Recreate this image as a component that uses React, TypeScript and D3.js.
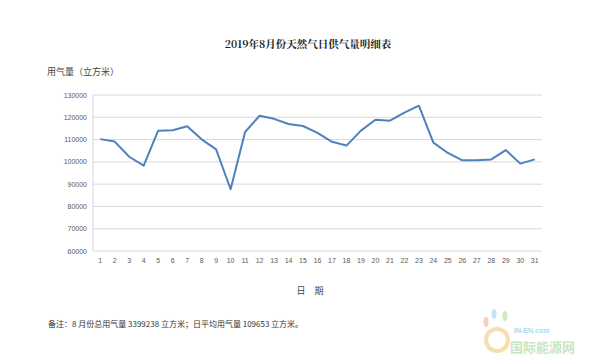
import React from "react";
import * as d3 from "d3";

const days = Array.from({ length: 31 }, (_, i) => String(i + 1));
const supply = [
  110200, 109100, 102300, 98300, 114000, 114200, 116000, 110100, 105600, 87700,
  113400, 120700, 119300, 117000, 116100, 113000, 109000, 107300, 114000, 118900,
  118500, 122100, 125200, 108600, 104000, 100700, 100700, 101100, 105300, 99200,
  101100,
];
const yTicks = [60000, 70000, 80000, 90000, 100000, 110000, 120000, 130000];

const W = 600, H = 360;
const left = 93, right = 542, top = 95, bottom = 251;

export default function App() {
  const x = d3.scaleBand<string>().domain(days).range([left, right]);
  const y = d3.scaleLinear().domain([60000, 130000]).range([bottom, top]);
  const line = d3
    .line<number>()
    .x((_, i) => (x(days[i]) as number) + x.bandwidth() / 2)
    .y((d) => y(d));
  const cjk = "'Noto Sans CJK SC', sans-serif";
  return (
    <svg width={W} height={H} style={{ position: "absolute", left: 0, top: 0, background: "#fff" }}>
      <rect width={W} height={H} fill="#fff" />
      <text x={308} y={48} textAnchor="middle" fontSize={10.5} fontFamily="'Noto Serif CJK SC', 'Noto Sans CJK SC', serif" fontWeight="bold" fill="#222">
        2019年8月份天然气日供气量明细表
      </text>
      <text x={47} y={75} fontSize={9} fontFamily={cjk} fill="#444">用气量（立方米）</text>
      {yTicks.map((t) => (
        <g key={t}>
          <line x1={left} x2={right} y1={y(t)} y2={y(t)} stroke="#d9d9d9" strokeWidth={1} />
          <text x={left - 6} y={y(t) + 2.5} textAnchor="end" fontSize={7} fontFamily="'Liberation Sans', Arial, sans-serif" fill="#595959">
            {t}
          </text>
        </g>
      ))}
      <line x1={left} x2={left} y1={top} y2={bottom} stroke="#d9d9d9" />
      {days.map((d) => (
        <text key={d} x={(x(d) as number) + x.bandwidth() / 2} y={bottom + 12} textAnchor="middle" fontSize={7} fontFamily="'Liberation Sans', Arial, sans-serif" fill="#595959">
          {d}
        </text>
      ))}
      <path d={line(supply) || ""} fill="none" stroke="#4f81bd" strokeWidth={2} strokeLinejoin="round" />
      <text x={310} y={294} textAnchor="middle" fontSize={9} fontFamily={cjk} fill="#444">日　期</text>
      <text x={48} y={327} fontSize={8} fontFamily={cjk} fill="#333">
        备注：8 月份总用气量 3399238 立方米；日平均用气量 109653 立方米。
      </text>
      <g opacity={0.55}>
        <circle cx={497} cy={340} r={11} fill="none" stroke="#f2c46d" strokeWidth={4} />
        <ellipse cx={486} cy={322} rx={2.5} ry={5} fill="#f4a7a0" />
        <ellipse cx={494} cy={314} rx={2.5} ry={5} fill="#9ec9ef" />
        <ellipse cx={505} cy={316} rx={2.5} ry={5} fill="#a9d89a" />
        <text x={514} y={333} fontSize={7} fontWeight="bold" fontFamily="'Liberation Sans', sans-serif" fill="#6cb8e6">IN-EN.com</text>
        <text x={510} y={352} fontSize={13} fontWeight="bold" fontFamily={cjk} fill="#9bd08a">国际能源网</text>
      </g>
    </svg>
  );
}
